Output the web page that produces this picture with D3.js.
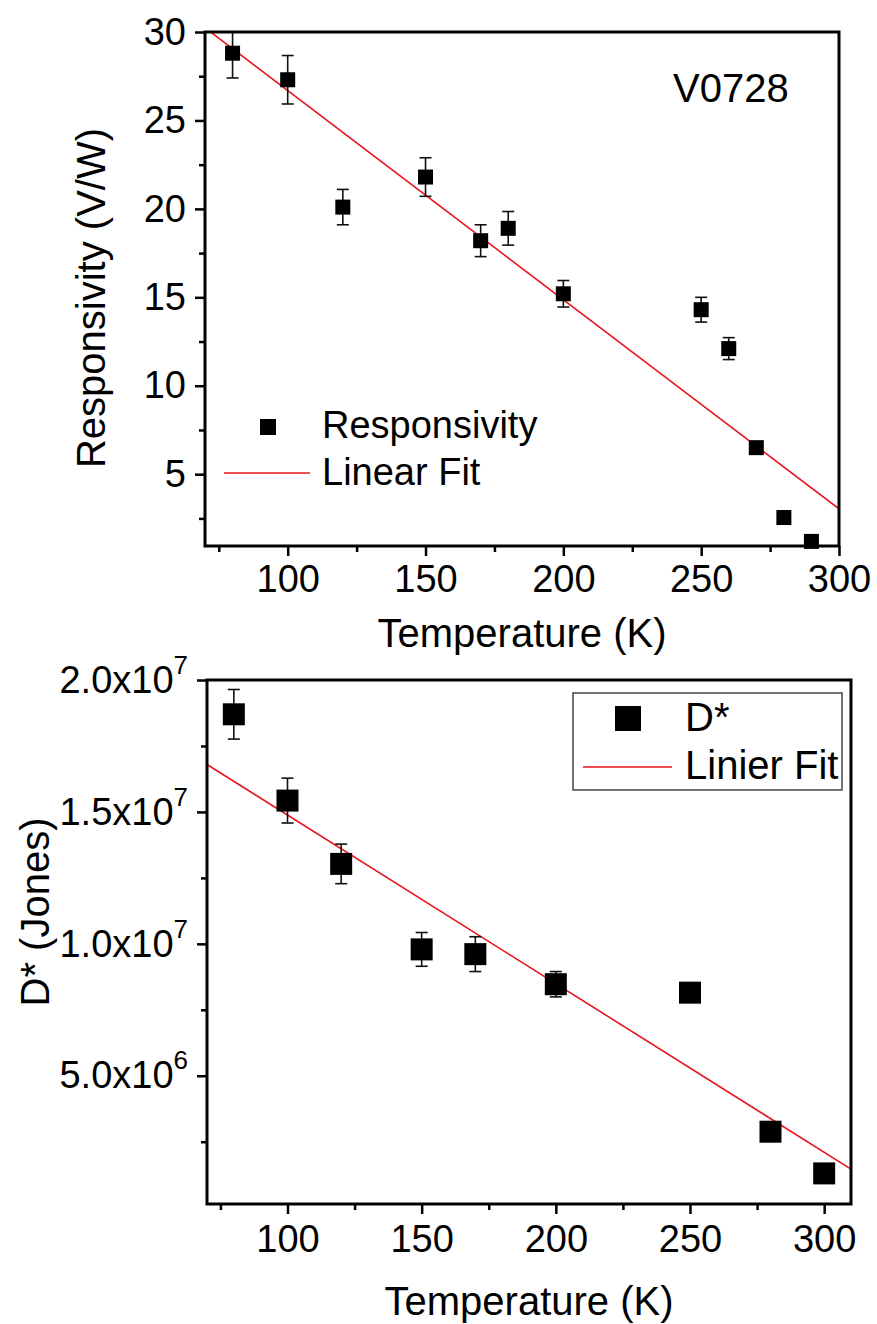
<!DOCTYPE html>
<html>
<head>
<meta charset="utf-8">
<script src="https://cdn.jsdelivr.net/npm/d3@7"></script>
<style>
  body { margin: 0; background: #fff; }
  svg text { font-family: "Liberation Sans", Arial, sans-serif; fill: #000; }
</style>
</head>
<body>
<div id="chart"></div>
<script>
// panel 1 : responsivity vs temperature
const tempR = [80, 100, 120, 150, 170, 180, 200, 250, 260, 270, 280, 290];
const respR = [28.8, 27.3, 20.1, 21.8, 18.2, 18.9, 15.2, 14.3, 12.1, 6.5, 2.55, 1.2];
const respErr = [1.4, 1.37, 1.0, 1.09, 0.9, 0.95, 0.75, 0.7, 0.62, 0, 0, 0];
const fitRX = [70, 300];
const fitRY = [30.24, 3.04];
const xTicksR = [100, 150, 200, 250, 300];
const yTicksR = [5, 10, 15, 20, 25, 30];

// panel 2 : detectivity vs temperature
const tempD = [80, 100, 120, 150, 170, 200, 250, 280, 300];
const detD = [1.87e7, 1.543e7, 1.303e7, 9.79e6, 9.61e6, 8.47e6, 8.15e6, 2.88e6, 1.30e6];
const detErr = [0.094e7, 0.085e7, 0.075e7, 0.64e6, 0.66e6, 0.48e6, 0, 0, 0];
const fitDX = [70, 310];
const fitDY = [1.68e7, 1.46e6];
const xTicksD = [100, 150, 200, 250, 300];
const yTicksD = [5e6, 1e7, 1.5e7, 2e7];

const W = 877, H = 1324;
const svg = d3.select("#chart").append("svg").attr("width", W).attr("height", H);
const RED = "#e8141c";

function panel(o) {
  const {L, R, T, B} = o;
  const x = d3.scaleLinear().domain(o.xDom).range([L, R]);
  const y = d3.scaleLinear().domain(o.yDom).range([B, T]);
  const g = svg.append("g");

  const clipId = "clip" + o.id;
  g.append("clipPath").attr("id", clipId)
    .append("rect").attr("x", L).attr("y", T).attr("width", R - L).attr("height", B - T);

  // minor ticks
  g.append("g").attr("transform", `translate(0,${B})`)
    .call(d3.axisBottom(x).tickValues(o.xMinor).tickSize(6).tickFormat(""))
    .call(a => a.select(".domain").remove())
    .selectAll("line").attr("stroke-width", 2.5);
  g.append("g").attr("transform", `translate(${L},0)`)
    .call(d3.axisLeft(y).tickValues(o.yMinor).tickSize(6).tickFormat(""))
    .call(a => a.select(".domain").remove())
    .selectAll("line").attr("stroke-width", 2.5);

  // major ticks
  const ax = g.append("g").attr("transform", `translate(0,${B})`)
    .call(d3.axisBottom(x).tickValues(o.xTicks).tickSize(10).tickPadding(o.xPad).tickFormat(d3.format("d")));
  ax.select(".domain").remove();
  ax.selectAll("line").attr("stroke-width", 2.5);
  ax.selectAll("text").attr("font-size", 38).attr("fill", "#000");

  const ay = g.append("g").attr("transform", `translate(${L},0)`)
    .call(d3.axisLeft(y).tickValues(o.yTicks).tickSize(10).tickPadding(9));
  ay.select(".domain").remove();
  ay.selectAll("line").attr("stroke-width", 2.5);
  ay.selectAll("text").attr("font-size", 38).attr("fill", "#000");
  if (o.sci) {
    ay.selectAll("text").each(function(d) {
      const e = Math.floor(Math.log10(d));
      const m = (d / Math.pow(10, e)).toFixed(1);
      const t = d3.select(this).text("");
      t.append("tspan").text(m + "x10");
      t.append("tspan").attr("font-size", 26).attr("dy", -19).text(e);
    });
  }

  // fit line
  g.append("line")
    .attr("clip-path", `url(#${clipId})`)
    .attr("x1", x(o.fitX[0])).attr("y1", y(o.fitY[0]))
    .attr("x2", x(o.fitX[1])).attr("y2", y(o.fitY[1]))
    .attr("stroke", RED).attr("stroke-width", 1.6);

  // error bars
  const pts = o.xs.map((v, i) => ({x: v, y: o.ys[i], e: o.es[i]})).filter(d => d.e > 0);
  const eb = g.append("g").attr("clip-path", `url(#${clipId})`)
    .attr("stroke", "#111").attr("stroke-width", 1.6);
  eb.selectAll(".v").data(pts).enter().append("line")
    .attr("x1", d => x(d.x)).attr("x2", d => x(d.x))
    .attr("y1", d => y(d.y + d.e)).attr("y2", d => y(d.y - d.e));
  [1, -1].forEach(s => {
    eb.selectAll(".c" + s).data(pts).enter().append("line")
      .attr("x1", d => x(d.x) - o.cap).attr("x2", d => x(d.x) + o.cap)
      .attr("y1", d => y(d.y + s * d.e)).attr("y2", d => y(d.y + s * d.e));
  });

  // squares
  g.selectAll(".pt").data(o.xs).enter().append("rect")
    .attr("x", (d) => x(d) - o.sq / 2)
    .attr("y", (d, i) => y(o.ys[i]) - o.sq / 2)
    .attr("width", o.sq).attr("height", o.sq).attr("fill", "#000");

  // frame
  g.append("rect").attr("x", L).attr("y", T).attr("width", R - L).attr("height", B - T)
    .attr("fill", "none").attr("stroke", "#000").attr("stroke-width", 3);

  // titles
  g.append("text").attr("x", (L + R) / 2).attr("y", o.xTitleY)
    .attr("text-anchor", "middle").attr("font-size", 40).text("Temperature (K)");
  g.append("text")
    .attr("transform", `translate(${o.yTitleX},${o.yTitleY}) rotate(-90)`)
    .attr("text-anchor", "middle").attr("font-size", 40).text(o.yTitle);
  return g;
}

// top panel
const g1 = panel({
  id: 1, L: 205, R: 839, T: 32, B: 546,
  xDom: [70, 300], yDom: [0.94, 30],
  xTicks: xTicksR, xMinor: [75, 125, 175, 225, 275],
  yTicks: yTicksR, yMinor: [2.5, 7.5, 12.5, 17.5, 22.5, 27.5],
  xPad: 9, sci: false,
  xs: tempR, ys: respR, es: respErr, fitX: fitRX, fitY: fitRY,
  sq: 15, cap: 6,
  xTitleY: 647, yTitleX: 105, yTitleY: 298, yTitle: "Responsivity (V/W)"
});
g1.append("text").attr("x", 673).attr("y", 102).attr("font-size", 40).text("V0728");
// legend
g1.append("rect").attr("x", 260).attr("y", 419).attr("width", 16).attr("height", 16).attr("fill", "#000");
g1.append("text").attr("x", 322).attr("y", 438).attr("font-size", 38).text("Responsivity");
g1.append("line").attr("x1", 224).attr("x2", 310).attr("y1", 473).attr("y2", 473)
  .attr("stroke", RED).attr("stroke-width", 1.6);
g1.append("text").attr("x", 322).attr("y", 485).attr("font-size", 38).text("Linear Fit");

// bottom panel
const g2 = panel({
  id: 2, L: 207, R: 851, T: 680, B: 1204,
  xDom: [70, 310], yDom: [1.4e5, 2e7],
  xTicks: xTicksD, xMinor: [75, 125, 175, 225, 275],
  yTicks: yTicksD, yMinor: [2.5e6, 7.5e6, 1.25e7, 1.75e7],
  xPad: 11, sci: true,
  xs: tempD, ys: detD, es: detErr, fitX: fitDX, fitY: fitDY,
  sq: 22, cap: 6,
  xTitleY: 1315, yTitleX: 49, yTitleY: 912, yTitle: "D* (Jones)"
});
// legend
g2.append("rect").attr("x", 573).attr("y", 693).attr("width", 269).attr("height", 97)
  .attr("fill", "#fff").attr("stroke", "#444").attr("stroke-width", 1.5);
g2.append("rect").attr("x", 615).attr("y", 706).attr("width", 26).attr("height", 25).attr("fill", "#000");
g2.append("text").attr("x", 685).attr("y", 731).attr("font-size", 40).text("D*");
g2.append("line").attr("x1", 583).attr("x2", 672).attr("y1", 767).attr("y2", 767)
  .attr("stroke", RED).attr("stroke-width", 1.6);
g2.append("text").attr("x", 685).attr("y", 779).attr("font-size", 40).text("Linier Fit");
</script>
</body>
</html>
